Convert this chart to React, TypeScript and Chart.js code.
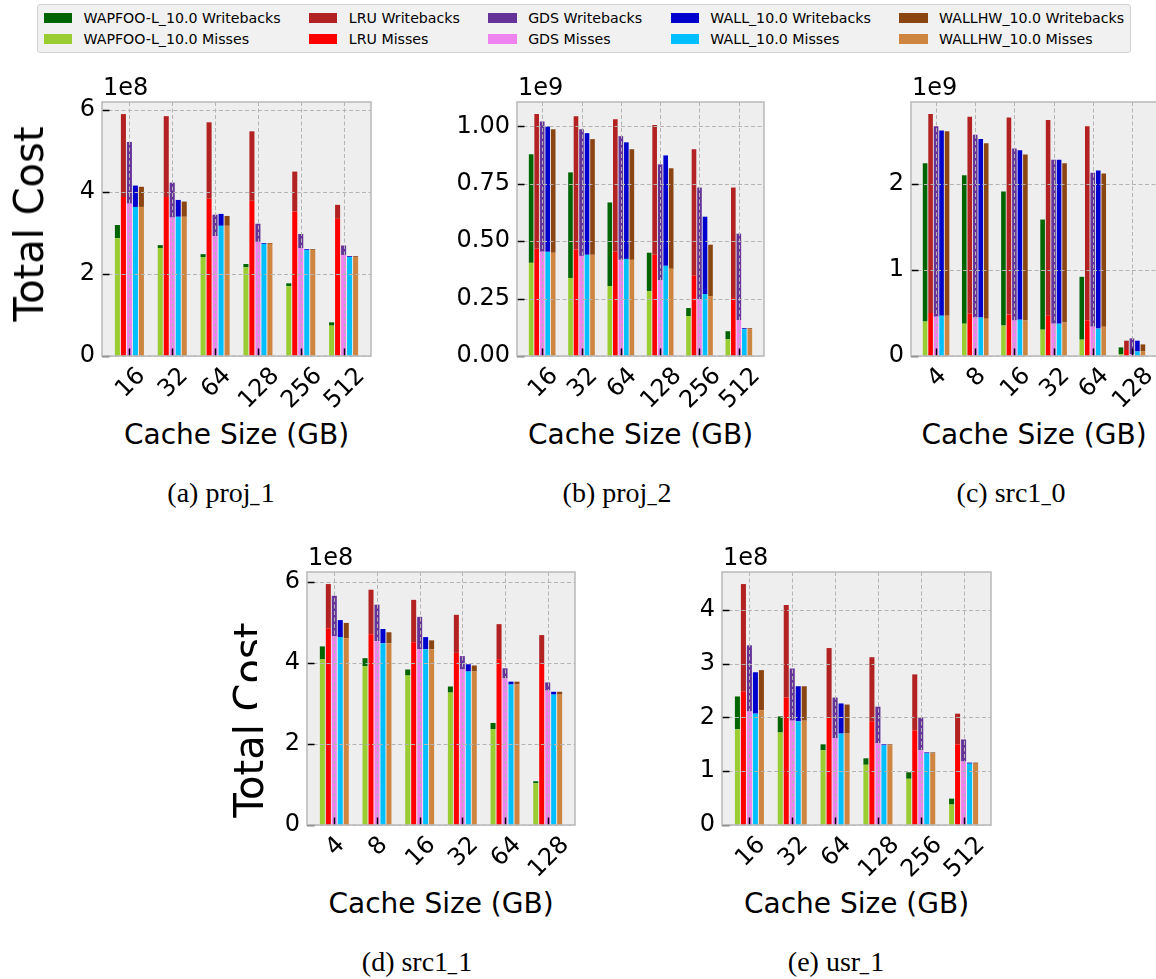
import React, { useEffect, useRef } from 'react';
import { Chart, registerables } from 'chart.js';

Chart.register(...registerables);

// ---------- legend / series ----------
const ALGOS = ['WAPFOO-L_10.0', 'LRU', 'GDS', 'WALL_10.0', 'WALLHW_10.0'];
const WB_COLORS = ['#006400', '#b22222', '#663399', '#0000cd', '#8b4513'];
const MISS_COLORS = ['#9acd32', '#ff0000', '#ee82ee', '#00bfff', '#cd853f'];

// ---------- (a) proj_1, units of 1e8 ----------
const proj1Sizes = ['16', '32', '64', '128', '256', '512'];
const proj1Ticks = [0, 2, 4, 6];
const proj1WapfooMiss = [2.87, 2.63, 2.41, 2.16, 1.70, 0.74];
const proj1WapfooWb = [0.32, 0.07, 0.07, 0.08, 0.07, 0.08];
const proj1LruMiss = [3.87, 3.87, 3.83, 3.78, 3.52, 3.34];
const proj1LruWb = [2.02, 1.97, 1.86, 1.69, 0.97, 0.34];
const proj1GdsMiss = [3.71, 3.37, 2.92, 2.78, 2.63, 2.46];
const proj1GdsWb = [1.50, 0.85, 0.52, 0.44, 0.34, 0.23];
const proj1WallMiss = [3.63, 3.39, 3.17, 2.73, 2.58, 2.41];
const proj1WallWb = [0.52, 0.41, 0.29, 0.02, 0.02, 0.02];
const proj1WallhwMiss = [3.63, 3.39, 3.17, 2.73, 2.58, 2.41];
const proj1WallhwWb = [0.49, 0.37, 0.24, 0.02, 0.02, 0.02];

// ---------- (b) proj_2, units of 1e9 ----------
const proj2Sizes = ['16', '32', '64', '128', '256', '512'];
const proj2Ticks = [0, 0.25, 0.5, 0.75, 1.0];
const proj2WapfooMiss = [0.406, 0.340, 0.305, 0.283, 0.174, 0.073];
const proj2WapfooWb = [0.473, 0.460, 0.364, 0.167, 0.035, 0.035];
const proj2LruMiss = [0.467, 0.464, 0.454, 0.441, 0.350, 0.253];
const proj2LruWb = [0.587, 0.581, 0.578, 0.565, 0.551, 0.481];
const proj2GdsMiss = [0.454, 0.436, 0.419, 0.331, 0.248, 0.156];
const proj2GdsWb = [0.568, 0.552, 0.539, 0.504, 0.486, 0.377];
const proj2WallMiss = [0.454, 0.441, 0.423, 0.393, 0.270, 0.117];
const proj2WallWb = [0.546, 0.530, 0.508, 0.481, 0.337, 0.004];
const proj2WallhwMiss = [0.450, 0.441, 0.419, 0.380, 0.261, 0.117];
const proj2WallhwWb = [0.538, 0.504, 0.482, 0.438, 0.224, 0.004];

// ---------- (c) src1_0, units of 1e9 ----------
const src10Sizes = ['4', '8', '16', '32', '64', '128'];
const src10Ticks = [0, 1, 2];
const src10WapfooMiss = [0.40, 0.376, 0.353, 0.306, 0.19, 0.02];
const src10WapfooWb = [1.84, 1.724, 1.557, 1.279, 0.73, 0.08];
const src10LruMiss = [0.50, 0.49, 0.481, 0.469, 0.415, 0.07];
const src10LruWb = [2.31, 2.29, 2.289, 2.271, 2.255, 0.108];
const src10GdsMiss = [0.457, 0.446, 0.411, 0.376, 0.341, 0.02];
const src10GdsWb = [2.213, 2.124, 1.999, 1.904, 1.789, 0.185];
const src10WallMiss = [0.469, 0.446, 0.422, 0.376, 0.318, 0.053];
const src10WallWb = [2.151, 2.074, 1.968, 1.904, 1.837, 0.125];
const src10WallhwMiss = [0.469, 0.434, 0.411, 0.388, 0.341, 0.053];
const src10WallhwWb = [2.141, 2.036, 1.929, 1.852, 1.779, 0.082];

// ---------- (d) src1_1, units of 1e8 ----------
const src11Sizes = ['4', '8', '16', '32', '64', '128'];
const src11Ticks = [0, 2, 4, 6];
const src11WapfooMiss = [4.09, 3.92, 3.69, 3.27, 2.37, 1.03];
const src11WapfooWb = [0.32, 0.20, 0.15, 0.15, 0.15, 0.05];
const src11LruMiss = [4.85, 4.71, 4.51, 4.25, 4.09, 3.99];
const src11LruWb = [1.10, 1.10, 1.05, 0.94, 0.87, 0.70];
const src11GdsMiss = [4.66, 4.54, 4.34, 3.84, 3.62, 3.32];
const src11GdsWb = [1.00, 0.90, 0.80, 0.33, 0.25, 0.20];
const src11WallMiss = [4.64, 4.49, 4.34, 3.79, 3.47, 3.22];
const src11WallWb = [0.42, 0.35, 0.30, 0.18, 0.07, 0.07];
const src11WallhwMiss = [4.61, 4.49, 4.34, 3.79, 3.47, 3.22];
const src11WallhwWb = [0.38, 0.27, 0.22, 0.15, 0.07, 0.07];

// ---------- (e) usr_1, units of 1e8 ----------
const usr1Sizes = ['16', '32', '64', '128', '256', '512'];
const usr1Ticks = [0, 1, 2, 3, 4];
const usr1WapfooMiss = [1.78, 1.72, 1.39, 1.12, 0.86, 0.38];
const usr1WapfooWb = [0.61, 0.30, 0.11, 0.12, 0.12, 0.11];
const usr1LruMiss = [2.48, 2.37, 2.00, 1.93, 1.76, 1.50];
const usr1LruWb = [2.00, 1.72, 1.29, 1.19, 1.04, 0.57];
const usr1GdsMiss = [2.11, 1.94, 1.61, 1.52, 1.39, 1.18];
const usr1GdsWb = [1.23, 0.97, 0.76, 0.68, 0.61, 0.41];
const usr1WallMiss = [2.07, 1.93, 1.70, 1.48, 1.33, 1.14];
const usr1WallWb = [0.77, 0.65, 0.56, 0.02, 0.02, 0.02];
const usr1WallhwMiss = [2.13, 1.94, 1.70, 1.48, 1.33, 1.14];
const usr1WallhwWb = [0.75, 0.64, 0.54, 0.02, 0.02, 0.02];

type Panel = {
  key: string;
  cats: string[];
  ticks: number[];
  fmt: (v: number) => string;
  offset: string;
  misses: number[][];
  wbs: number[][];
  frame: { l: number; t: number; r: number; b: number };
};

const int = (v: number) => String(v);
const two = (v: number) => v.toFixed(2);

const PANELS: Panel[] = [
  {
    key: 'a', cats: proj1Sizes, ticks: proj1Ticks, fmt: int, offset: '1e8',
    misses: [proj1WapfooMiss, proj1LruMiss, proj1GdsMiss, proj1WallMiss, proj1WallhwMiss],
    wbs: [proj1WapfooWb, proj1LruWb, proj1GdsWb, proj1WallWb, proj1WallhwWb],
    frame: { l: 102, t: 102, r: 371, b: 356 },
  },
  {
    key: 'b', cats: proj2Sizes, ticks: proj2Ticks, fmt: two, offset: '1e9',
    misses: [proj2WapfooMiss, proj2LruMiss, proj2GdsMiss, proj2WallMiss, proj2WallhwMiss],
    wbs: [proj2WapfooWb, proj2LruWb, proj2GdsWb, proj2WallWb, proj2WallhwWb],
    frame: { l: 517, t: 102, r: 764, b: 356 },
  },
  {
    key: 'c', cats: src10Sizes, ticks: src10Ticks, fmt: int, offset: '1e9',
    misses: [src10WapfooMiss, src10LruMiss, src10GdsMiss, src10WallMiss, src10WallhwMiss],
    wbs: [src10WapfooWb, src10LruWb, src10GdsWb, src10WallWb, src10WallhwWb],
    frame: { l: 911, t: 102, r: 1157, b: 356 },
  },
  {
    key: 'd', cats: src11Sizes, ticks: src11Ticks, fmt: int, offset: '1e8',
    misses: [src11WapfooMiss, src11LruMiss, src11GdsMiss, src11WallMiss, src11WallhwMiss],
    wbs: [src11WapfooWb, src11LruWb, src11GdsWb, src11WallWb, src11WallhwWb],
    frame: { l: 307, t: 572, r: 575, b: 825 },
  },
  {
    key: 'e', cats: usr1Sizes, ticks: usr1Ticks, fmt: int, offset: '1e8',
    misses: [usr1WapfooMiss, usr1LruMiss, usr1GdsMiss, usr1WallMiss, usr1WallhwMiss],
    wbs: [usr1WapfooWb, usr1LruWb, usr1GdsWb, usr1WallWb, usr1WallhwWb],
    frame: { l: 722, t: 572, r: 991, b: 825 },
  },
];

const PAD_L = 70;
const PAD_T = 30;
const PAD_R = 10;
const PAD_B = 60;
const FONT = 'DejaVu Sans';

function PanelChart({ p }: { p: Panel }) {
  const ref = useRef<HTMLCanvasElement | null>(null);
  const W = p.frame.r - p.frame.l + PAD_L + PAD_R;
  const H = p.frame.b - p.frame.t + PAD_T + PAD_B;

  useEffect(() => {
    if (!ref.current) return;
    const datasets: any[] = [];
    ALGOS.forEach((a, k) => {
      datasets.push({
        label: a + ' Misses', data: p.misses[k], backgroundColor: MISS_COLORS[k],
        stack: 's' + k, borderWidth: 0,
      });
      datasets.push({
        label: a + ' Writebacks', data: p.wbs[k], backgroundColor: WB_COLORS[k],
        stack: 's' + k, borderWidth: 0,
      });
    });
    let maxTotal = 0;
    p.cats.forEach((_, i) => {
      for (let k = 0; k < ALGOS.length; k++) {
        maxTotal = Math.max(maxTotal, p.misses[k][i] + p.wbs[k][i]);
      }
    });
    const ymax = maxTotal * 1.05;
    const n = p.cats.length;

    const deco = {
      id: 'deco' + p.key,
      beforeDatasetsDraw(chart: any) {
        const { ctx, chartArea: ca } = chart;
        ctx.save();
        ctx.fillStyle = '#eeeeee';
        ctx.fillRect(ca.left, ca.top, ca.right - ca.left, ca.bottom - ca.top);
        ctx.restore();
      },
      afterDatasetsDraw(chart: any) {
        const { ctx, chartArea: ca } = chart;
        const xs = chart.scales.x;
        const ys = chart.scales.y;
        ctx.save();
        // grid on top of bars
        ctx.strokeStyle = '#b4b4b4';
        ctx.lineWidth = 1;
        ctx.setLineDash([4, 2.5]);
        ctx.beginPath();
        for (let i = 0; i < n; i++) {
          const px = Math.round(xs.getPixelForValue(i)) + 0.5;
          ctx.moveTo(px, ca.top);
          ctx.lineTo(px, ca.bottom);
        }
        p.ticks.forEach((v) => {
          const py = Math.round(ys.getPixelForValue(v)) + 0.5;
          ctx.moveTo(ca.left, py);
          ctx.lineTo(ca.right, py);
        });
        ctx.stroke();
        ctx.setLineDash([]);
        // tick marks (inward)
        ctx.strokeStyle = '#000';
        ctx.lineWidth = 1.5;
        ctx.beginPath();
        for (let i = 0; i < n; i++) {
          const px = Math.round(xs.getPixelForValue(i)) + 0.5;
          ctx.moveTo(px, ca.bottom);
          ctx.lineTo(px, ca.bottom - 7.5);
        }
        p.ticks.forEach((v) => {
          const py = Math.round(ys.getPixelForValue(v)) + 0.5;
          ctx.moveTo(ca.left, py);
          ctx.lineTo(ca.left + 7.5, py);
        });
        ctx.stroke();
        // frame
        ctx.strokeStyle = '#bcbcbc';
        ctx.lineWidth = 1.6;
        ctx.strokeRect(ca.left, ca.top, ca.right - ca.left, ca.bottom - ca.top);
        // offset text
        ctx.fillStyle = '#000';
        ctx.font = `24px "${FONT}"`;
        ctx.textAlign = 'left';
        ctx.textBaseline = 'alphabetic';
        ctx.fillText(p.offset, ca.left + 1, ca.top - 7);
        // rotated x tick labels (bbox centred on tick)
        const F = 24;
        const h = F * 1.164;
        ctx.textAlign = 'center';
        p.cats.forEach((lab, i) => {
          const px = xs.getPixelForValue(i);
          const w = ctx.measureText(lab).width;
          const d = (w + h) * Math.SQRT1_2;
          ctx.save();
          ctx.translate(px, ca.bottom + 5 + d / 2);
          ctx.rotate(-Math.PI / 4);
          ctx.fillText(lab, 0, 0.346 * F);
          ctx.restore();
        });
        ctx.restore();
      },
    };

    const chart = new Chart(ref.current, {
      type: 'bar',
      data: { labels: p.cats.map((_, i) => i), datasets },
      options: {
        animation: false,
        responsive: false,
        maintainAspectRatio: false,
        layout: { padding: { left: 0, top: PAD_T, right: PAD_R, bottom: PAD_B } },
        plugins: { legend: { display: false }, tooltip: { enabled: false } },
        datasets: { bar: { categoryPercentage: 0.7, barPercentage: 0.84 } },
        scales: {
          x: {
            type: 'linear',
            display: false,
            offset: false,
            min: -0.64,
            max: n - 1 + 0.64,
          },
          y: {
            type: 'linear',
            stacked: true,
            min: 0,
            max: ymax,
            grid: { display: false, drawTicks: false },
            border: { display: false },
            afterBuildTicks: (ax: any) => {
              ax.ticks = p.ticks.map((v) => ({ value: v }));
            },
            afterFit: (ax: any) => {
              ax.width = PAD_L;
            },
            ticks: {
              padding: 7,
              color: '#000',
              font: { family: FONT, size: 24 },
              callback: (v: any) => p.fmt(Number(v)),
            },
          },
        },
      } as any,
      plugins: [deco],
    });
    return () => chart.destroy();
  }, []);

  return (
    <canvas
      ref={ref}
      width={W}
      height={H}
      style={{ position: 'absolute', left: p.frame.l - PAD_L, top: p.frame.t - PAD_T, width: W, height: H }}
    />
  );
}

const XLABELS = [
  { x: 236.5, y: 434 },
  { x: 640.5, y: 434 },
  { x: 1034, y: 434 },
  { x: 441, y: 903.5 },
  { x: 856.5, y: 903.5 },
];

const CAPTIONS = [
  { tag: '(a)', name: 'proj', idx: '1', x: 221, base: 502 },
  { tag: '(b)', name: 'proj', idx: '2', x: 617, base: 502 },
  { tag: '(c)', name: 'src1', idx: '0', x: 1011, base: 502 },
  { tag: '(d)', name: 'src1', idx: '1', x: 417, base: 971 },
  { tag: '(e)', name: 'usr', idx: '1', x: 836, base: 971 },
];

const LF = 14.2; // legend font size

function Legend() {
  return (
    <div
      style={{
        position: 'absolute', left: 37, top: 4, background: '#f1f1f1',
        border: '1px solid #d2d2d2', borderRadius: 3, padding: `${0.4 * LF}px ${0.4 * LF}px`,
        display: 'flex', gap: 2 * LF, fontFamily: FONT, fontSize: LF, lineHeight: `${LF}px`, color: '#000',
      }}
    >
      {ALGOS.map((a, k) => (
        <div key={a} style={{ display: 'flex', flexDirection: 'column', gap: 0.5 * LF }}>
          {[['Writebacks', WB_COLORS[k]], ['Misses', MISS_COLORS[k]]].map(([t, c]) => (
            <div key={t} style={{ display: 'flex', alignItems: 'center', height: LF }}>
              <span style={{ display: 'inline-block', width: 2 * LF, height: 0.7 * LF, background: c, marginRight: 0.8 * LF }} />
              <span style={{ whiteSpace: 'nowrap' }}>{a + ' ' + t}</span>
            </div>
          ))}
        </div>
      ))}
    </div>
  );
}

export default function App() {
  return (
    <div style={{ position: 'fixed', left: 0, top: 0, width: 1156, height: 979, overflow: 'hidden', background: '#fff' }}>
      <Legend />
      {PANELS.map((p) => (
        <PanelChart key={p.key} p={p} />
      ))}
      {XLABELS.map((l, i) => (
        <div
          key={'xl' + i}
          style={{
            position: 'absolute', left: l.x, top: l.y - 13.5, transform: 'translateX(-50%)',
            fontFamily: FONT, fontSize: 28, lineHeight: '28px', whiteSpace: 'nowrap', color: '#000',
          }}
        >
          Cache Size (GB)
        </div>
      ))}
      <div
        style={{
          position: 'absolute', left: 29, top: 224, transform: 'translate(-50%, -50%) rotate(-90deg)',
          fontFamily: FONT, fontSize: 40, lineHeight: '40px', whiteSpace: 'nowrap', color: '#000',
        }}
      >
        Total Cost
      </div>
      <div
        style={{
          position: 'absolute', left: 249, top: 720, transform: 'translate(-50%, -50%) rotate(-90deg)',
          fontFamily: FONT, fontSize: 40, lineHeight: '40px', whiteSpace: 'nowrap', color: '#000',
        }}
      >
        Total Cost
      </div>
      <div style={{ position: 'absolute', left: 257, top: 605, width: 11, height: 106, background: '#fff' }} />
      {CAPTIONS.map((c) => (
        <div
          key={c.tag}
          style={{
            position: 'absolute', left: c.x, top: c.base - 0.8375 * 28, transform: 'translateX(-50%)',
            fontFamily: '"Liberation Serif", "Times New Roman", serif', fontSize: 28, lineHeight: '28px',
            whiteSpace: 'nowrap', color: '#000',
          }}
        >
          {c.tag + ' ' + c.name}
          <span style={{ display: 'inline-block', width: '0.36em', transform: 'scaleX(0.66)', transformOrigin: '0 0' }}>_</span>
          {c.idx}
        </div>
      ))}
    </div>
  );
}
